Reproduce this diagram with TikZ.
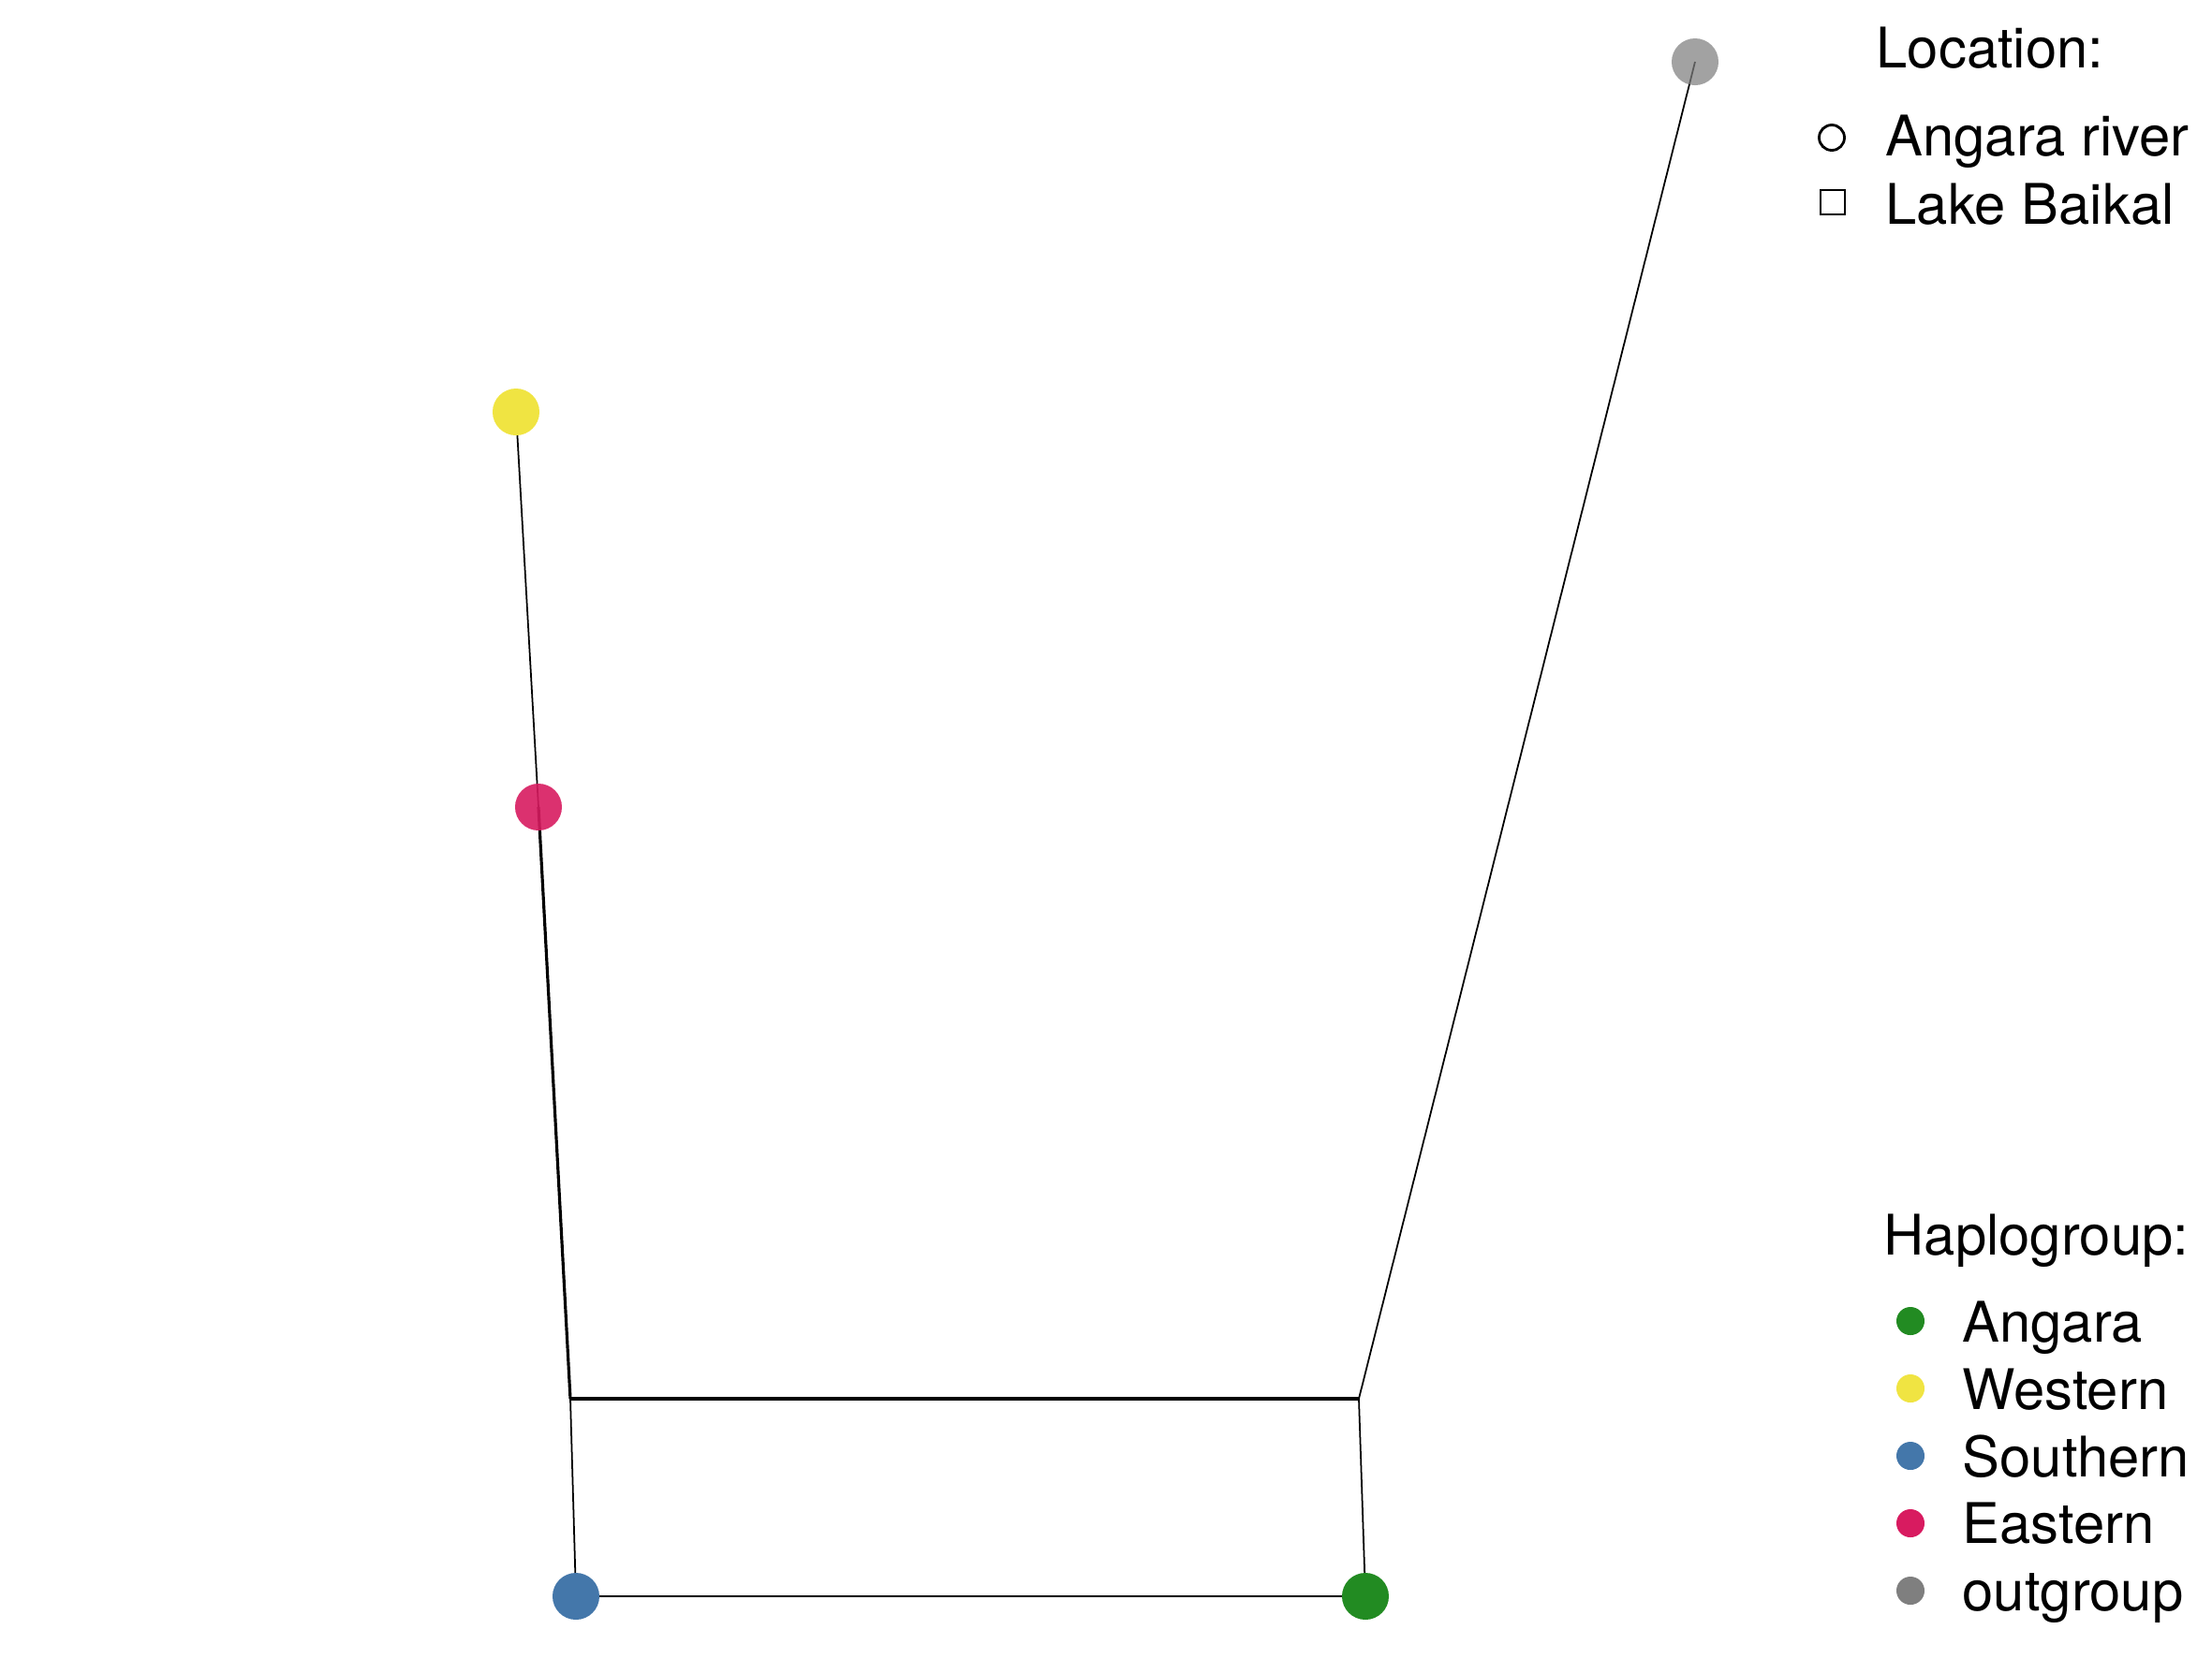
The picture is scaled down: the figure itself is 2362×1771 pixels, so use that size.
\documentclass[tikz,border=0pt]{standalone}
\usepackage{fontspec}
\setmainfont{TeX Gyre Heros}
\definecolor{cAngara}{HTML}{228B22}
\definecolor{cWestern}{HTML}{F0E442}
\definecolor{cSouthern}{HTML}{4477AA}
\definecolor{cEastern}{HTML}{D81B60}
\definecolor{cOut}{HTML}{7F7F7F}
\pgfdeclarelayer{bg}
\pgfsetlayers{bg,main}
\begin{document}
\begin{tikzpicture}[x=0.01cm,y=-0.01cm,
  hap/.style={circle,inner sep=0pt,minimum size=0.5cm,draw=none},
  legdot/.style={circle,inner sep=0pt,minimum size=0.3cm,draw=none},
  edge/.style={line width=0.5pt,black},
  lab/.style={anchor=base west,inner sep=0pt,font=\fontsize{17}{20}\selectfont}]
\useasboundingbox (0,0) rectangle (2362,1771);
% junction points
\coordinate (jl) at (609,1494);
\coordinate (jr) at (1451,1494);
% nodes
\node[hap,fill=cWestern] (west) at (551,440) {};
\node[hap,fill=cSouthern] (south) at (615,1705) {};
\node[hap,fill=cAngara] (ang) at (1458,1705) {};
\node[hap,fill=cOut,fill opacity=0.72] (out) at (1810,66) {};
\node[hap,fill=cEastern,fill opacity=0.9] (east) at (575,862) {};
% edges
\begin{pgfonlayer}{bg}
\fill[white] (0,0) rectangle (2362,1771);
\draw[edge] (west.center) -- (east.center);
\draw[edge,line width=0.9pt] (east.center) -- (jl);
\draw[edge] (jl) -- (south.center);
\draw[edge,line width=0.9pt] (jl) -- (jr);
\draw[edge] (jr) -- (ang.center);
\draw[edge] (jr) -- (out.center);
\draw[edge] (south.center) -- (ang.center);
\end{pgfonlayer}
% Location legend
\node[lab] (loct) at (2003,72) {Location:};
\node[circle,draw=black,line width=0.8pt,inner sep=0pt,minimum size=0.27cm] (locc) at (1956,147) {};
\node[lab] (loca) at (2013,166) {Angara river};
\node[rectangle,draw=black,line width=0.8pt,inner sep=0pt,minimum size=0.26cm] (locs) at (1957,216) {};
\node[lab] (locb) at (2013,239) {Lake Baikal};
% Haplogroup legend
\node[lab] (hapt) at (2011,1340) {Haplogroup:};
\node[legdot,fill=cAngara] (l1) at (2040,1411) {};
\node[lab] (t1) at (2095,1433) {Angara};
\node[legdot,fill=cWestern] (l2) at (2040,1483) {};
\node[lab] (t2) at (2095,1505) {Western};
\node[legdot,fill=cSouthern] (l3) at (2040,1555) {};
\node[lab] (t3) at (2095,1577) {Southern};
\node[legdot,fill=cEastern] (l4) at (2040,1627) {};
\node[lab] (t4) at (2095,1648) {Eastern};
\node[legdot,fill=cOut] (l5) at (2040,1699) {};
\node[lab] (t5) at (2095,1720) {outgroup};
\end{tikzpicture}
\end{document}
